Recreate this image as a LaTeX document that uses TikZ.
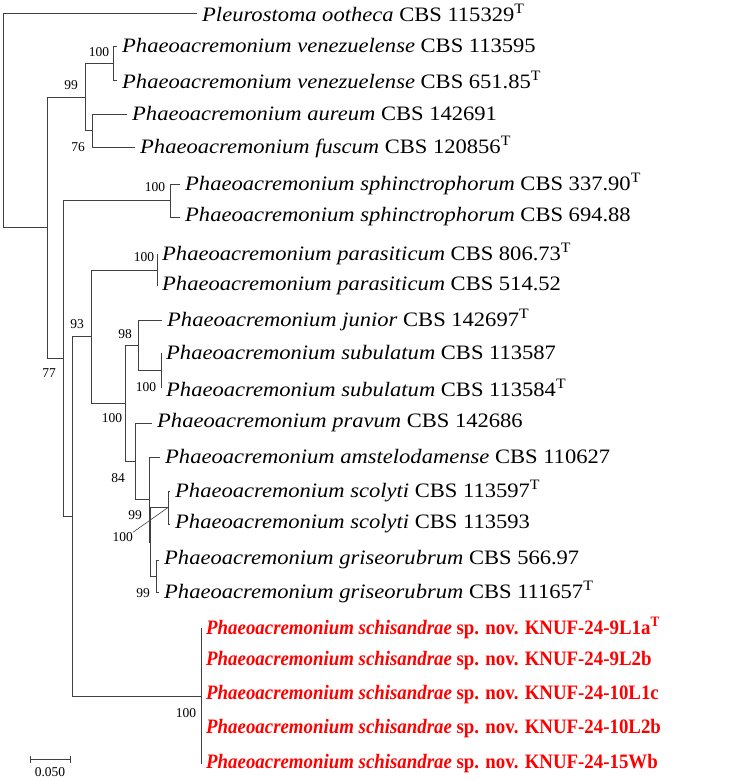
\documentclass[tikz,border=0pt]{standalone}
\usepackage{fontspec}
\setmainfont{Liberation Serif}
\newfontfamily\taxfont[FakeStretch=1.1]{Liberation Serif}
\newfontfamily\newspfont[FakeStretch=0.92]{Liberation Serif}
\begin{document}
\begin{tikzpicture}[x=1pt,y=-1pt,
    taxon/.style={anchor=west,inner sep=0pt,inner xsep=5pt,font=\taxfont\fontsize{20.5}{24}\selectfont},
    newsp/.style={taxon,text=red,font=\newspfont\fontsize{20.5}{24}\selectfont\bfseries},
    boot/.style={inner sep=0pt,font=\fontsize{13.5}{16}\selectfont},
    branch/.style={draw=black!75,line width=0.8pt}]
    \useasboundingbox (0,0) rectangle (750,781);
    % internal nodes
    \coordinate (root) at (3,120);
    \coordinate (n47) at (47,227.5);
    \coordinate (n85) at (85,97);
    \coordinate (n113) at (113,63.5);
    \coordinate (n92) at (92,130.5);
    \coordinate (n63) at (63,358);
    \coordinate (n170) at (170,200.5);
    \coordinate (n72) at (72,516);
    \coordinate (n91) at (91,336.5);
    \coordinate (n157) at (157,270);
    \coordinate (n125) at (125,403);
    \coordinate (n138) at (138,345);
    \coordinate (n161) at (161,370.5);
    \coordinate (n135) at (135,461);
    \coordinate (n149) at (149,499.5);
    \coordinate (n150) at (150.5,542);
    \coordinate (n168) at (168,507.5);
    \coordinate (n156) at (156,576);
    \coordinate (n201) at (201,696);
    % taxa
    \node[taxon] (pleu) at (197,13) {\textit{Pleurostoma ootheca} CBS 115329\textsuperscript{T}};
    \node[taxon] (ven1) at (117,46) {\textit{Phaeoacremonium venezuelense} CBS 113595};
    \node[taxon] (ven2) at (117,80) {\textit{Phaeoacremonium venezuelense} CBS 651.85\textsuperscript{T}};
    \node[taxon] (aur) at (127,114) {\textit{Phaeoacremonium aureum} CBS 142691};
    \node[taxon] (fus) at (135,147) {\textit{Phaeoacremonium fuscum} CBS 120856\textsuperscript{T}};
    \node[taxon] (sph1) at (180,184) {\textit{Phaeoacremonium sphinctrophorum} CBS 337.90\textsuperscript{T}};
    \node[taxon] (sph2) at (180,217) {\textit{Phaeoacremonium sphinctrophorum} CBS 694.88};
    \node[taxon] (par1) at (157,254) {\textit{Phaeoacremonium parasiticum} CBS 806.73\textsuperscript{T}};
    \node[taxon] (par2) at (157,286) {\textit{Phaeoacremonium parasiticum} CBS 514.52};
    \node[taxon] (jun) at (162,320) {\textit{Phaeoacremonium junior} CBS 142697\textsuperscript{T}};
    \node[taxon] (sub1) at (161,353) {\textit{Phaeoacremonium subulatum} CBS 113587};
    \node[taxon] (sub2) at (161,388) {\textit{Phaeoacremonium subulatum} CBS 113584\textsuperscript{T}};
    \node[taxon] (pra) at (152,423) {\textit{Phaeoacremonium pravum} CBS 142686};
    \node[taxon] (ams) at (160,457) {\textit{Phaeoacremonium amstelodamense} CBS 110627};
    \node[taxon] (sco1) at (170,491) {\textit{Phaeoacremonium scolyti} CBS 113597\textsuperscript{T}};
    \node[taxon] (sco2) at (170,524) {\textit{Phaeoacremonium scolyti} CBS 113593};
    \node[taxon] (gri1) at (159,560) {\textit{Phaeoacremonium griseorubrum} CBS 566.97};
    \node[taxon] (gri2) at (159,592) {\textit{Phaeoacremonium griseorubrum} CBS 111657\textsuperscript{T}};
    \node[newsp] (sch1) at (201,628) {\textit{Phaeoacremonium schisandrae} sp. nov. KNUF-24-9L1a\textsuperscript{T}};
    \node[newsp] (sch2) at (201,661) {\textit{Phaeoacremonium schisandrae} sp. nov. KNUF-24-9L2b};
    \node[newsp] (sch3) at (201,695) {\textit{Phaeoacremonium schisandrae} sp. nov. KNUF-24-10L1c};
    \node[newsp] (sch4) at (201,729) {\textit{Phaeoacremonium schisandrae} sp. nov. KNUF-24-10L2b};
    \node[newsp] (sch5) at (201,764) {\textit{Phaeoacremonium schisandrae} sp. nov. KNUF-24-15Wb};
    % branches
    \draw[branch] (root) |- (pleu.west);
    \draw[branch] (root) |- (n47);
    \draw[branch] (n47) |- (n85);
    \draw[branch] (n47) |- (n63);
    \draw[branch] (n85) |- (n113);
    \draw[branch] (n85) |- (n92);
    \draw[branch] (n113) |- (ven1.west);
    \draw[branch] (n113) |- (ven2.west);
    \draw[branch] (n92) |- (aur.west);
    \draw[branch] (n92) |- (fus.west);
    \draw[branch] (n63) |- (n170);
    \draw[branch] (n63) |- (n72);
    \draw[branch] (n170) |- (sph1.west);
    \draw[branch] (n170) |- (sph2.west);
    \draw[branch] (n72) |- (n91);
    \draw[branch] (n72) |- (n201);
    \draw[branch] (n91) |- (n157);
    \draw[branch] (n91) |- (n125);
    \draw[branch] (n157) |- (par1.west);
    \draw[branch] (n157) |- (par2.west);
    \draw[branch] (n125) |- (n138);
    \draw[branch] (n125) |- (n135);
    \draw[branch] (n138) |- (jun.west);
    \draw[branch] (n138) |- (n161);
    \draw[branch] (n161) |- (sub1.west);
    \draw[branch] (n161) |- (sub2.west);
    \draw[branch] (n135) |- (pra.west);
    \draw[branch] (n135) |- (n149);
    \draw[branch] (n149) |- (ams.west);
    \draw[branch] (n149) |- (n150);
    \draw[branch] (n150) |- (n168);
    \draw[branch] (n150) |- (n156);
    \draw[branch] (n168) |- (sco1.west);
    \draw[branch] (n168) |- (sco2.west);
    \draw[branch] (n156) |- (gri1.west);
    \draw[branch] (n156) |- (gri2.west);
    \draw[branch] (n201) |- (sch1.west);
    \draw[branch] (n201) |- (sch5.west);
    % bootstrap values
    \node[boot] (b113) at (99,52) {100};
    \node[boot] (b85) at (71,85) {99};
    \node[boot] (b92) at (78,147) {76};
    \node[boot] (b170) at (155,187) {100};
    \node[boot] (b63) at (49,373) {77};
    \node[boot] (b157) at (144,257) {100};
    \node[boot] (b91) at (77,324) {93};
    \node[boot] (b138) at (125,334) {98};
    \node[boot] (b161) at (146,387) {100};
    \node[boot] (b125) at (112,418) {100};
    \node[boot] (b135) at (118,478) {84};
    \node[boot] (b150) at (135,515) {99};
    \node[boot,anchor=east] (b168) at (133,537) {100};
    \node[boot] (b156) at (143,593) {99};
    \node[boot] (b201) at (186,713) {100};
    \draw[branch,line width=0.6pt] (b168.north east) -- (n168);
    % scale bar
    \coordinate (sbl) at (30,759);
    \coordinate (sbr) at (70,759);
    \draw[branch] (sbl) -- (sbr);
    \draw[branch] ([yshift=-3.5pt]sbl) -- ([yshift=3.5pt]sbl);
    \draw[branch] ([yshift=-3.5pt]sbr) -- ([yshift=3.5pt]sbr);
    \node[boot] (sblab) at (50,772) {0.050};
\end{tikzpicture}
\end{document}
